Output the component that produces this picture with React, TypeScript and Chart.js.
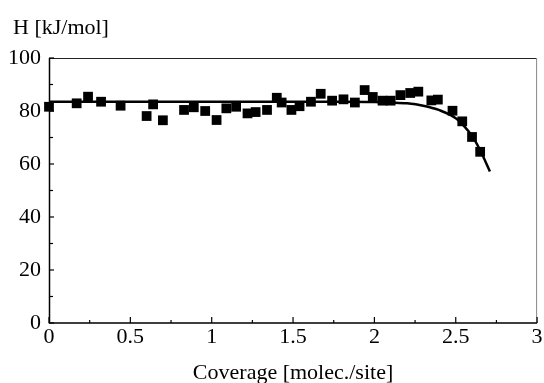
import React, { useEffect, useRef } from "react";
import { Chart, registerables } from "chart.js";

Chart.register(...registerables);

// Measured points
const coverage = [0.0, 0.17, 0.24, 0.32, 0.44, 0.6, 0.64, 0.7, 0.83, 0.89, 0.96, 1.03, 1.09, 1.15, 1.22, 1.27, 1.34, 1.4, 1.43, 1.49, 1.54, 1.61, 1.67, 1.74, 1.81, 1.88, 1.94, 1.99, 2.05, 2.1, 2.16, 2.22, 2.27, 2.35, 2.39, 2.48, 2.54, 2.6, 2.65];
const enthalpy = [81.6, 82.9, 85.4, 83.5, 82.0, 78.1, 82.5, 76.5, 80.4, 81.4, 80.0, 76.6, 81.0, 81.6, 79.1, 79.6, 80.4, 85.0, 83.2, 80.4, 81.8, 83.5, 86.5, 83.9, 84.4, 83.2, 87.9, 85.3, 83.9, 83.9, 86.0, 86.8, 87.3, 84.0, 84.3, 80.1, 76.1, 70.2, 64.6];

// Fitted curve
const curveX = [0, 0.5, 1.0, 1.5, 1.8, 2.0, 2.1, 2.2, 2.3, 2.4, 2.5, 2.55, 2.6, 2.65, 2.71];
const curveY = [83.5, 83.5, 83.5, 83.5, 83.5, 83.4, 83.2, 82.9, 82.0, 80.3, 77.3, 74.4, 70.6, 65.2, 57.2];

const xTickLabels = ["0", "0.5", "1", "1.5", "2", "2.5", "3"];
const yTickLabels = ["0", "20", "40", "60", "80", "100"];

const FONT = "'Liberation Serif', 'Times New Roman', serif";

const framePlugin = {
  id: "frameTicks",
  afterDraw(chart: any) {
    const { ctx, chartArea } = chart;
    const { left, right, top, bottom } = chartArea;
    const xs = chart.scales.x;
    const ys = chart.scales.y;
    ctx.save();
    ctx.lineCap = "butt";
    ctx.strokeStyle = "#222";
    ctx.lineWidth = 1;
    ctx.beginPath();
    ctx.moveTo(left + 0.5, top + 0.5);
    ctx.lineTo(right - 0.5, top + 0.5);
    ctx.stroke();
    ctx.strokeStyle = "#888";
    ctx.beginPath();
    ctx.moveTo(right - 0.5, top);
    ctx.lineTo(right - 0.5, bottom);
    ctx.stroke();
    ctx.strokeStyle = "#000";
    ctx.lineWidth = 1.5;
    ctx.beginPath();
    ctx.moveTo(left + 0.5, top);
    ctx.lineTo(left + 0.5, bottom);
    ctx.lineTo(right, bottom);
    ctx.stroke();
    ctx.lineWidth = 1.2;
    xs.ticks.forEach((t: any) => {
      const px = xs.getPixelForValue(t.value);
      const major = Math.abs(t.value * 2 - Math.round(t.value * 2)) < 1e-6;
      const len = major ? 6 : 3;
      ctx.beginPath();
      ctx.moveTo(px, bottom);
      ctx.lineTo(px, bottom - len);
      ctx.stroke();
    });
    ys.ticks.forEach((t: any) => {
      const py = ys.getPixelForValue(t.value);
      const major = Math.round(t.value) % 20 === 0;
      const len = major ? 5 : 4;
      ctx.beginPath();
      ctx.moveTo(left, py);
      ctx.lineTo(left + len, py);
      ctx.stroke();
    });
    ctx.fillStyle = "#000";
    ctx.font = `22px ${FONT}`;
    ctx.textAlign = "left";
    ctx.textBaseline = "middle";
    ctx.fillText("H [kJ/mol]", 13, 28);
    ctx.restore();
  },
};

export default function App() {
  const ref = useRef<HTMLCanvasElement | null>(null);

  useEffect(() => {
    document.body.style.margin = "0";
    if (!ref.current) return;
    const chart = new Chart(ref.current, {
      type: "scatter",
      data: {
        datasets: [
          {
            type: "line",
            data: curveX.map((x, i) => ({ x, y: curveY[i] })),
            borderColor: "#000",
            borderWidth: 2.5,
            pointRadius: 0,
            cubicInterpolationMode: "monotone",
            fill: false,
            clip: false,
          } as any,
          {
            type: "scatter",
            data: coverage.map((x, i) => ({ x, y: enthalpy[i] })),
            pointStyle: "rect",
            pointRadius: 6.9,
            backgroundColor: "#000",
            borderColor: "#000",
            borderWidth: 0,
            clip: false,
          } as any,
        ],
      },
      options: {
        animation: false,
        responsive: false,
        events: [],
        layout: { padding: { left: 0, right: 4, top: 58, bottom: 0 } },
        plugins: {
          legend: { display: false },
          tooltip: { enabled: false },
          title: { display: false },
        },
        scales: {
          x: {
            type: "linear",
            min: 0,
            max: 3,
            border: { display: false },
            grid: { display: false, drawTicks: false },
            ticks: {
              stepSize: 0.25,
              padding: 1,
              color: "#000",
              maxRotation: 0,
              autoSkip: false,
              font: { family: FONT, size: 22 },
              callback: (v: any) => {
                const n = Number(v);
                const k = Math.round(n * 2);
                if (Math.abs(n * 2 - k) > 1e-6) return "";
                return xTickLabels[k] ?? "";
              },
            },
            title: {
              display: true,
              text: "Coverage [molec./site]",
              color: "#000",
              padding: 0,
              font: { family: FONT, size: 22, lineHeight: "19px" },
            },
            afterFit: (s: any) => {
              s.height = 60;
              s.paddingLeft = 0;
              s.paddingRight = 0;
            },
          },
          y: {
            type: "linear",
            min: 0,
            max: 100,
            border: { display: false },
            grid: { display: false, drawTicks: false },
            ticks: {
              stepSize: 10,
              padding: 8,
              color: "#000",
              autoSkip: false,
              font: { family: FONT, size: 22 },
              callback: (v: any) => {
                const n = Math.round(Number(v));
                if (n % 20 !== 0) return "";
                return yTickLabels[n / 20] ?? "";
              },
            },
            afterFit: (s: any) => {
              s.width = 49;
              s.paddingTop = 0;
              s.paddingBottom = 0;
            },
          },
        },
      },
      plugins: [framePlugin],
    });
    return () => chart.destroy();
  }, []);

  return (
    <div style={{ width: 544, height: 383, background: "#fff" }}>
      <canvas ref={ref} width={544} height={383} style={{ display: "block" }} />
    </div>
  );
}
